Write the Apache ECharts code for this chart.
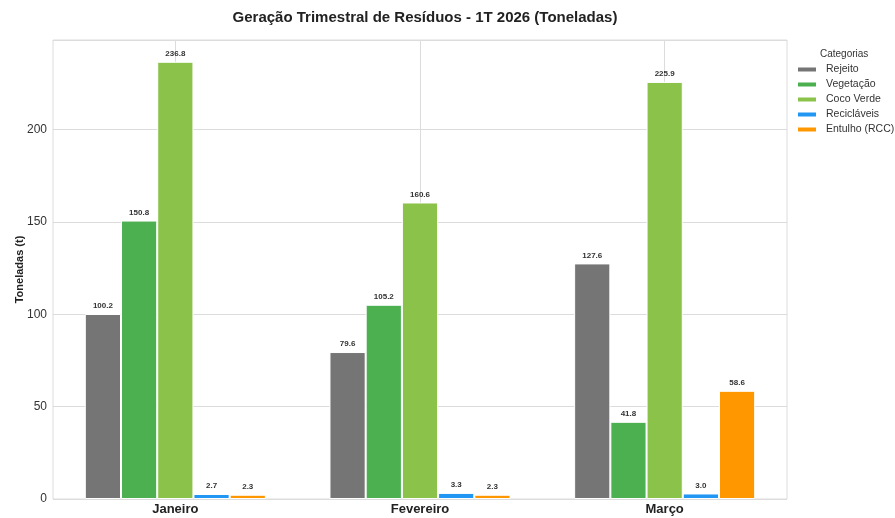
<!DOCTYPE html>
<html>
<head>
<meta charset="utf-8">
<script src="https://cdn.jsdelivr.net/npm/echarts@6/dist/echarts.min.js"></script>
<style>html,body{margin:0;padding:0;background:#fff}#c{width:895px;height:518px}</style>
</head>
<body>
<div id="c"></div>
<script>
const categories = ['Janeiro', 'Fevereiro', 'Março'];
const seriesNames = ['Rejeito', 'Vegetação', 'Coco Verde', 'Recicláveis', 'Entulho (RCC)'];
const rejeito = [100.2, 79.6, 127.6];
const vegetacao = [150.8, 105.2, 41.8];
const cocoVerde = [236.8, 160.6, 225.9];
const reciclaveis = [2.7, 3.3, 3.0];
const entulho = [2.3, 2.3, 58.6];
const yTicks = [0, 50, 100, 150, 200];

const colors = ['#757575', '#4CAF50', '#8BC34A', '#2196F3', '#FF9800'];
const values = [rejeito, vegetacao, cocoVerde, reciclaveis, entulho];

const chart = echarts.init(document.getElementById('c'));
chart.setOption({
  animation: false,
  backgroundColor: '#fff',
  title: {
    text: 'Geração Trimestral de Resíduos - 1T 2026 (Toneladas)',
    left: 420, textAlign: 'center', top: 5,
    textStyle: { fontFamily: 'Liberation Sans', fontSize: 15, fontWeight: 'bold', color: '#222' }
  },
  graphic: [{
    type: 'text', left: 820, top: 49,
    style: { text: 'Categorias', font: '10px "Liberation Sans"', fill: '#333' }
  }],
  legend: {
    orient: 'vertical', left: 791, top: 59,
    itemWidth: 20, itemHeight: 6, itemGap: 4,
    icon: 'rect',
    textStyle: { fontFamily: 'Liberation Sans', fontSize: 10.5, color: '#333', padding: [0, 0, 0, 4] },
    data: seriesNames
  },
  grid: { left: 53, right: 108, top: 40, bottom: 19, outerBoundsMode: 'none', containLabel: false,
          show: true, borderColor: '#dcdcdc', borderWidth: 1 },
  xAxis: [{
    type: 'category', data: categories,
    axisLine: { show: false }, axisTick: { show: false },
    splitLine: { show: false },
    axisLabel: { fontFamily: 'Liberation Sans', fontSize: 13, fontWeight: 'bold', color: '#222', margin: 4 }
  }, {
    type: 'category', data: ['0', '1', '2', '3', '4', '5', '6'], boundaryGap: false,
    position: 'bottom',
    axisLine: { show: false }, axisTick: { show: false }, axisLabel: { show: false },
    splitLine: { show: true, interval: (i) => i % 2 === 1, lineStyle: { color: '#dcdcdc', width: 1 } }
  }],
  yAxis: {
    type: 'value', min: 0, max: 248.6, interval: 50,
    name: 'Toneladas (t)', nameLocation: 'middle', nameGap: 28, nameMoveOverlap: false,
    nameTextStyle: { fontFamily: 'Liberation Sans', fontSize: 11, fontWeight: 'bold', color: '#222' },
    axisLine: { show: false }, axisTick: { show: false },
    axisLabel: {
      fontFamily: 'Liberation Sans', fontSize: 12, color: '#333', margin: 6, showMaxLabel: false,
      formatter: (v) => yTicks.includes(v) ? String(v) : ''
    },
    splitLine: { lineStyle: { color: '#dcdcdc', width: 1 } }
  },
  series: seriesNames.map((n, i) => ({
    name: n, type: 'bar', data: values[i], xAxisIndex: 0,
    barGap: '0%', barCategoryGap: '26%',
    itemStyle: { color: colors[i], borderColor: '#fff', borderWidth: 1 },
    label: {
      show: true, position: 'top', distance: 4,
      formatter: (p) => p.value.toFixed(1),
      fontFamily: 'Liberation Sans', fontSize: 8, fontWeight: 'bold', color: '#333'
    }
  }))
});
</script>
</body>
</html>
